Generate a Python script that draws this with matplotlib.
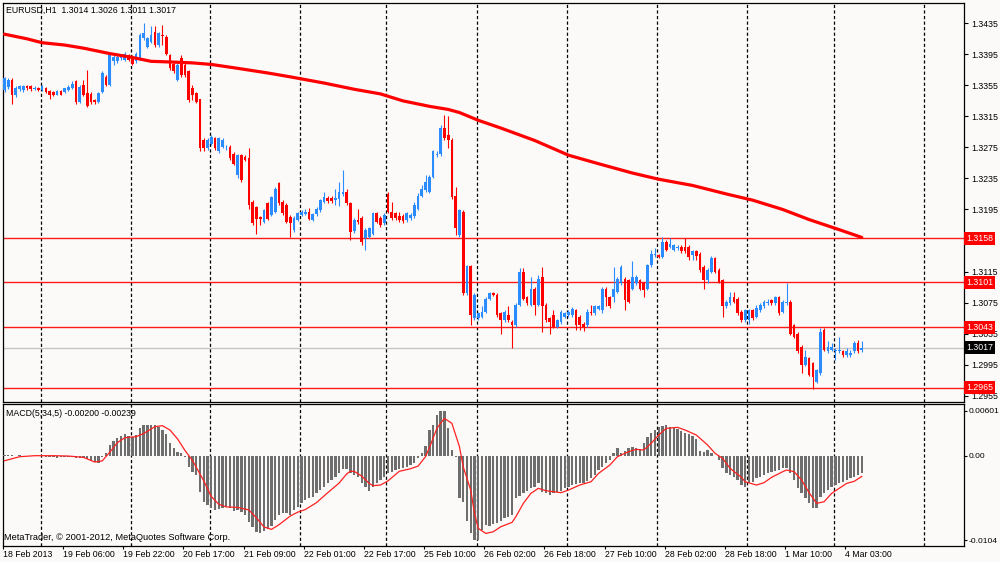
import matplotlib
matplotlib.use('Agg')
import matplotlib.pyplot as plt
import matplotlib.transforms as mtransforms
import numpy as np

plt.rcParams['font.family'] = ['Liberation Sans', 'DejaVu Sans']
plt.rcParams['lines.scale_dashes'] = False

symbol_title = "EURUSD,H1  1.3014 1.3026 1.3011 1.3017"
macd_title = "MACD(5,34,5) -0.00200 -0.00239"
copyright_text = "MetaTrader, \u00a9 2001-2012, MetaQuotes Software Corp."

# ---- OHLC (H1 bars) ----
opens = [1.3349,1.3353,1.3362,1.3343,1.3350,1.3349,1.3354,1.3354,1.3350,1.3352,
         1.3349,1.3351,1.3348,1.3347,1.3343,1.3348,1.3346,1.3349,1.3351,1.3360,
         1.3334,1.3355,1.3345,1.3344,1.3336,1.3333,1.3347,1.3366,1.3355,1.3386,
         1.3386,1.3390,1.3388,1.3394,1.3392,1.3386,1.3390,1.3416,1.3405,1.3411,
         1.3424,1.3407,1.3420,1.3418,1.3394,1.3383,1.3362,1.3390,1.3381,1.3373,
         1.3351,1.3345,1.3338,1.3285,1.3274,1.3280,1.3287,1.3270,1.3276,1.3275,
         1.3276,1.3267,1.3239,1.3265,1.3263,1.3261,1.3205,1.3198,1.3185,1.3179,
         1.3203,1.3188,1.3192,1.3229,1.3205,1.3201,1.3185,1.3168,1.3182,1.3188,
         1.3189,1.3192,1.3181,1.3189,1.3194,1.3205,1.3210,1.3210,1.3207,1.3209,
         1.3215,1.3217,1.3203,1.3167,1.3181,1.3184,1.3158,1.3160,1.3164,1.3190,
         1.3184,1.3177,1.3215,1.3192,1.3190,1.3186,1.3187,1.3181,1.3184,1.3186,
         1.3196,1.3213,1.3220,1.3218,1.3237,1.3265,1.3266,1.3300,1.3291,1.3285,
         1.3213,1.3162,1.3192,1.3087,1.3122,1.3055,1.3055,1.3057,1.3063,1.3080,
         1.3087,1.3085,1.3061,1.3053,1.3059,1.3050,1.3046,1.3072,1.3115,1.3082,
         1.3072,1.3093,1.3072,1.3108,1.3072,1.3055,1.3059,1.3044,1.3050,1.3057,
         1.3059,1.3059,1.3065,1.3057,1.3048,1.3046,1.3063,1.3061,1.3067,1.3065,
         1.3093,1.3082,1.3082,1.3089,1.3100,1.3106,1.3104,1.3093,1.3100,1.3104,
         1.3100,1.3093,1.3123,1.3136,1.3136,1.3134,1.3153,1.3147,1.3143,1.3145,
         1.3147,1.3147,1.3147,1.3136,1.3141,1.3138,1.3121,1.3104,1.3115,1.3132,
         1.3117,1.3104,1.3070,1.3074,1.3082,1.3080,1.3063,1.3052,1.3052,1.3065,
         1.3057,1.3065,1.3070,1.3074,1.3078,1.3074,1.3082,1.3063,1.3074,1.3076,
         1.3046,1.3035,1.3018,1.2995,1.3003,1.2997,1.2973,1.2984,1.3040,1.3012,
         1.3014,1.3012,1.3012,1.3012,1.3008,1.3008,1.3012,1.3023,1.3014]
highs = [1.3366,1.3364,1.3364,1.3354,1.3356,1.3356,1.3355,1.3355,1.3354,1.3353,
         1.3356,1.3353,1.3349,1.3348,1.3349,1.3349,1.3352,1.3356,1.3361,1.3362,
         1.3355,1.3362,1.3375,1.3346,1.3337,1.3347,1.3373,1.3368,1.3396,1.3394,
         1.3395,1.3396,1.3398,1.3396,1.3394,1.3398,1.3422,1.3435,1.3418,1.3431,
         1.3431,1.3424,1.3433,1.3420,1.3396,1.3386,1.3384,1.3394,1.3384,1.3375,
         1.3355,1.3347,1.3338,1.3287,1.3287,1.3291,1.3289,1.3289,1.3287,1.3278,
         1.3278,1.3269,1.3267,1.3267,1.3265,1.3274,1.3207,1.3200,1.3186,1.3196,
         1.3205,1.3213,1.3224,1.3231,1.3207,1.3203,1.3188,1.3186,1.3192,1.3194,
         1.3195,1.3197,1.3191,1.3198,1.3209,1.3218,1.3213,1.3213,1.3222,1.3231,
         1.3246,1.3222,1.3205,1.3184,1.3196,1.3186,1.3171,1.3173,1.3192,1.3192,
         1.3186,1.3190,1.3217,1.3205,1.3192,1.3192,1.3189,1.3192,1.3190,1.3205,
         1.3216,1.3226,1.3239,1.3239,1.3272,1.3270,1.3304,1.3317,1.3315,1.3287,
         1.3224,1.3196,1.3194,1.3124,1.3124,1.3087,1.3063,1.3070,1.3082,1.3089,
         1.3089,1.3087,1.3063,1.3065,1.3070,1.3052,1.3074,1.3119,1.3119,1.3084,
         1.3108,1.3095,1.3110,1.3121,1.3074,1.3057,1.3065,1.3054,1.3065,1.3063,
         1.3065,1.3069,1.3067,1.3059,1.3050,1.3067,1.3072,1.3072,1.3072,1.3095,
         1.3095,1.3084,1.3121,1.3108,1.3123,1.3108,1.3106,1.3128,1.3110,1.3106,
         1.3102,1.3125,1.3143,1.3145,1.3138,1.3160,1.3156,1.3158,1.3151,1.3149,
         1.3149,1.3158,1.3149,1.3143,1.3143,1.3140,1.3123,1.3119,1.3135,1.3134,
         1.3119,1.3106,1.3078,1.3089,1.3089,1.3082,1.3065,1.3067,1.3067,1.3067,
         1.3072,1.3074,1.3078,1.3080,1.3080,1.3084,1.3084,1.3078,1.3100,1.3078,
         1.3048,1.3037,1.3020,1.3014,1.3005,1.2999,1.2990,1.3042,1.3042,1.3025,
         1.3023,1.3016,1.3031,1.3014,1.3016,1.3014,1.3025,1.3027,1.3026]
lows = [1.3347,1.3350,1.3331,1.3340,1.3348,1.3347,1.3349,1.3348,1.3349,1.3348,
        1.3348,1.3345,1.3338,1.3341,1.3342,1.3342,1.3345,1.3348,1.3350,1.3331,
        1.3332,1.3341,1.3327,1.3331,1.3331,1.3332,1.3345,1.3354,1.3354,1.3381,
        1.3384,1.3388,1.3386,1.3386,1.3381,1.3384,1.3388,1.3414,1.3403,1.3410,
        1.3405,1.3405,1.3407,1.3394,1.3375,1.3371,1.3360,1.3366,1.3366,1.3334,
        1.3336,1.3332,1.3270,1.3270,1.3272,1.3278,1.3272,1.3268,1.3274,1.3272,
        1.3259,1.3252,1.3235,1.3231,1.3257,1.3196,1.3175,1.3164,1.3175,1.3177,
        1.3181,1.3186,1.3190,1.3201,1.3188,1.3177,1.3159,1.3166,1.3180,1.3186,
        1.3188,1.3181,1.3180,1.3187,1.3192,1.3203,1.3204,1.3204,1.3201,1.3199,
        1.3213,1.3201,1.3156,1.3165,1.3176,1.3149,1.3143,1.3158,1.3162,1.3177,
        1.3173,1.3175,1.3190,1.3182,1.3182,1.3179,1.3178,1.3179,1.3182,1.3184,
        1.3194,1.3211,1.3218,1.3216,1.3235,1.3263,1.3264,1.3285,1.3274,1.3209,
        1.3162,1.3160,1.3085,1.3085,1.3046,1.3053,1.3053,1.3055,1.3061,1.3078,
        1.3083,1.3057,1.3035,1.3050,1.3050,1.3016,1.3044,1.3070,1.3078,1.3072,
        1.3070,1.3059,1.3070,1.3037,1.3050,1.3035,1.3042,1.3042,1.3048,1.3055,
        1.3057,1.3057,1.3040,1.3040,1.3038,1.3044,1.3059,1.3059,1.3065,1.3061,
        1.3070,1.3068,1.3076,1.3087,1.3098,1.3065,1.3074,1.3091,1.3098,1.3091,
        1.3082,1.3091,1.3121,1.3134,1.3132,1.3132,1.3141,1.3145,1.3141,1.3143,
        1.3139,1.3139,1.3130,1.3130,1.3130,1.3115,1.3093,1.3100,1.3113,1.3113,
        1.3100,1.3057,1.3068,1.3072,1.3074,1.3059,1.3050,1.3050,1.3048,1.3053,
        1.3055,1.3063,1.3068,1.3072,1.3072,1.3072,1.3059,1.3061,1.3072,1.3033,
        1.3029,1.3010,1.2984,1.2993,1.2980,1.2964,1.2971,1.2982,1.3012,1.3010,
        1.3012,1.3001,1.3010,1.3005,1.3005,1.3005,1.3010,1.3010,1.3011]
closes = [1.3364,1.3362,1.3342,1.3352,1.3354,1.3354,1.3351,1.3350,1.3352,1.3349,
          1.3354,1.3347,1.3343,1.3343,1.3348,1.3343,1.3351,1.3353,1.3357,1.3333,
          1.3353,1.3343,1.3329,1.3333,1.3333,1.3345,1.3371,1.3355,1.3394,1.3392,
          1.3392,1.3394,1.3396,1.3388,1.3383,1.3396,1.3420,1.3422,1.3416,1.3420,
          1.3407,1.3422,1.3419,1.3396,1.3377,1.3373,1.3381,1.3368,1.3368,1.3336,
          1.3343,1.3334,1.3274,1.3274,1.3285,1.3289,1.3274,1.3287,1.3285,1.3276,
          1.3261,1.3254,1.3265,1.3233,1.3259,1.3201,1.3177,1.3183,1.3183,1.3194,
          1.3183,1.3211,1.3222,1.3203,1.3190,1.3179,1.3177,1.3184,1.3190,1.3192,
          1.3192,1.3183,1.3189,1.3196,1.3207,1.3211,1.3206,1.3206,1.3210,1.3217,
          1.3218,1.3203,1.3166,1.3181,1.3179,1.3153,1.3169,1.3171,1.3190,1.3179,
          1.3175,1.3188,1.3192,1.3184,1.3184,1.3181,1.3180,1.3190,1.3188,1.3201,
          1.3213,1.3222,1.3231,1.3237,1.3270,1.3267,1.3300,1.3287,1.3285,1.3211,
          1.3171,1.3194,1.3087,1.3122,1.3059,1.3085,1.3061,1.3063,1.3080,1.3087,
          1.3085,1.3059,1.3052,1.3063,1.3052,1.3046,1.3072,1.3115,1.3080,1.3074,
          1.3093,1.3072,1.3106,1.3070,1.3052,1.3050,1.3044,1.3052,1.3063,1.3061,
          1.3063,1.3067,1.3046,1.3046,1.3044,1.3063,1.3061,1.3070,1.3070,1.3093,
          1.3082,1.3070,1.3093,1.3106,1.3121,1.3078,1.3076,1.3108,1.3108,1.3093,
          1.3091,1.3123,1.3138,1.3138,1.3134,1.3153,1.3143,1.3151,1.3149,1.3146,
          1.3141,1.3141,1.3134,1.3141,1.3135,1.3117,1.3104,1.3117,1.3132,1.3115,
          1.3102,1.3070,1.3076,1.3082,1.3076,1.3061,1.3052,1.3065,1.3065,1.3055,
          1.3068,1.3072,1.3076,1.3076,1.3074,1.3082,1.3061,1.3076,1.3076,1.3035,
          1.3031,1.3012,1.2995,1.3005,1.2982,1.2979,1.2988,1.3037,1.3014,1.3018,
          1.3018,1.3014,1.3014,1.3008,1.3012,1.3010,1.3023,1.3012,1.3017]

# ---- moving average (read points) ----
ma_bars = [0, 6, 10, 16, 21, 28, 34, 39, 45, 50, 55, 62, 70, 76, 85, 93, 100,
           106, 113, 118, 121, 126, 132, 141, 150, 158, 167, 174,
           183, 192, 199, 207, 214, 222, 228]
ma_values = [1.3421, 1.3415, 1.3410, 1.3407, 1.3403, 1.3396, 1.3391, 1.3386,
             1.3385, 1.3384, 1.3382, 1.3377, 1.3371, 1.3366, 1.3358, 1.3350,
             1.3344, 1.3335, 1.3328, 1.3324, 1.3320, 1.3310, 1.3300, 1.3284,
             1.3265, 1.3254, 1.3242, 1.3234,
             1.3226, 1.3215, 1.3207, 1.3195, 1.3182, 1.3169, 1.3159]

# ---- MACD(5,34,5) ----
macd_hist = [0.00008,0.00008,0.00004,0.0,0.00004,0.0,0.0,-0.00004,-0.00004,-0.00004,
             -0.00008,-0.00012,-0.00015,-0.00019,-0.00023,-0.00019,-0.00019,-0.00015,-0.00012,-0.00023,
             -0.00031,-0.00023,-0.00042,-0.00058,-0.00073,-0.00081,-0.00012,0.00027,0.00123,0.00173,
             0.00207,0.00227,0.00246,0.00230,0.00219,0.00238,0.00315,0.00349,0.00349,0.00353,
             0.00353,0.00334,0.00296,0.00246,0.00150,0.00084,0.00046,0.00027,-0.00012,-0.00127,
             -0.00184,-0.00223,-0.00415,-0.00530,-0.00568,-0.00607,-0.00626,-0.00618,-0.00607,-0.00595,
             -0.00607,-0.00634,-0.00626,-0.00645,-0.00684,-0.00760,-0.00818,-0.00876,-0.00887,-0.00868,
             -0.00849,-0.00810,-0.00741,-0.00684,-0.00664,-0.00664,-0.00684,-0.00626,-0.00588,-0.00549,
             -0.00511,-0.00492,-0.00472,-0.00434,-0.00396,-0.00357,-0.00319,-0.00280,-0.00242,-0.00204,
             -0.00157,-0.00157,-0.00204,-0.00223,-0.00242,-0.00319,-0.00365,-0.00403,-0.00357,-0.00319,
             -0.00280,-0.00242,-0.00204,-0.00184,-0.00165,-0.00154,-0.00138,-0.00127,-0.00108,-0.00088,
             -0.00031,0.00027,0.00111,0.00296,0.00353,0.00468,0.00518,0.00518,0.00315,0.00065,
             -0.00012,-0.00492,-0.00530,-0.00749,-0.00887,-0.00972,-0.00972,-0.00856,-0.00799,-0.00810,
             -0.00787,-0.00772,-0.00749,-0.00722,-0.00703,-0.00684,-0.00492,-0.00465,-0.00434,-0.00403,
             -0.00376,-0.00357,-0.00319,-0.00415,-0.00434,-0.00453,-0.00426,-0.00415,-0.00403,-0.00376,
             -0.00357,-0.00338,-0.00330,-0.00319,-0.00319,-0.00288,-0.00261,-0.00223,-0.00165,-0.00127,
             -0.00088,-0.00050,0.00027,0.00084,0.00027,0.00054,0.00084,0.00104,0.00092,0.00077,
             0.00142,0.00219,0.00265,0.00296,0.00334,0.00346,0.00353,0.00334,0.00323,0.00303,
             0.00284,0.00265,0.00246,0.00227,0.00188,0.00054,0.00046,0.00065,0.00027,0.0,
             -0.00050,-0.00146,-0.00204,-0.00223,-0.00250,-0.00280,-0.00338,-0.00357,-0.00319,-0.00300,
             -0.00261,-0.00242,-0.00223,-0.00204,-0.00184,-0.00173,-0.00165,-0.00146,-0.00146,-0.00204,
             -0.00280,-0.00376,-0.00434,-0.00492,-0.00549,-0.00607,-0.00607,-0.00472,-0.00434,-0.00396,
             -0.00357,-0.00338,-0.00319,-0.00300,-0.00280,-0.00261,-0.00242,-0.00223,-0.00200]
signal_bars = [0, 4, 8, 13, 17, 21, 24, 26, 28, 30, 32, 35, 37, 40, 42, 44, 46, 48,
               50, 53, 55, 57, 59, 62, 65, 67, 69, 71, 73, 76, 78, 80, 83, 86, 89,
               91, 92, 93, 95, 97, 98, 100, 102, 105, 108, 110, 112, 113, 115, 117,
               119, 121, 122, 124, 125, 126, 128, 130, 132, 135, 136, 138, 140, 142,
               144, 146, 148, 150, 153, 156, 158, 161, 163, 166, 168, 170, 172, 174,
               176, 179, 181, 184, 187, 189, 191, 193, 196, 197, 200, 202, 204, 207,
               208, 210, 212, 214, 216, 218, 220, 222, 224, 226, 228]
signal_values = [-0.00058, -0.00012, 0.0, 0.0, -0.00004, -0.00019, -0.00073, -0.00060,
                 0.00040, 0.00150, 0.00207, 0.00219, 0.00255, 0.00334, 0.00346, 0.00296,
                 0.00195, 0.00060, -0.00055, -0.00290, -0.00470, -0.00560, -0.00590,
                 -0.00595, -0.00625, -0.00715, -0.00820, -0.00849, -0.00795, -0.00695,
                 -0.00650, -0.00620, -0.00540, -0.00425, -0.00315, -0.00210, -0.00180,
                 -0.00180, -0.00235, -0.00319, -0.00345, -0.00338, -0.00290, -0.00180,
                 -0.00150, -0.00120, -0.00010, 0.00090, 0.00315, 0.00430, 0.00372,
                 0.00104, -0.00127, -0.00396, -0.00664, -0.00837, -0.00895, -0.00876,
                 -0.00818, -0.00768, -0.00703, -0.00549, -0.00434, -0.00376, -0.00403,
                 -0.00415, -0.00426, -0.00396, -0.00338, -0.00300, -0.00204, -0.00108,
                 -0.00012, 0.00046, 0.00073, 0.00065, 0.00142, 0.00238, 0.00315, 0.00326,
                 0.00296, 0.00238, 0.00123, 0.00027, -0.00031, -0.00146, -0.00250,
                 -0.00300, -0.00338, -0.00311, -0.00250, -0.00184, -0.00165, -0.00184,
                 -0.00280, -0.00426, -0.00549, -0.00530, -0.00434, -0.00376, -0.00319,
                 -0.00295, -0.00239]

level_lines = [1.3158, 1.3101, 1.3043, 1.2965]
bid_price = 1.3017
price_ticks = [1.2955, 1.2995, 1.3035, 1.3075, 1.3115, 1.3155, 1.3195, 1.3235,
               1.3275, 1.3315, 1.3355, 1.3395, 1.3435]
hidden_price_ticks = [1.3155]   # covered by the 1.3158 label in the original
time_tick_bars = [0, 16, 32, 48, 64, 80, 96, 112, 128, 144, 160, 176, 192, 208, 224]
time_tick_labels = ["18 Feb 2013", "19 Feb 06:00", "19 Feb 22:00", "20 Feb 17:00",
                    "21 Feb 09:00", "22 Feb 01:00", "22 Feb 17:00", "25 Feb 10:00",
                    "26 Feb 02:00", "26 Feb 18:00", "27 Feb 10:00", "28 Feb 02:00",
                    "28 Feb 18:00", "1 Mar 10:00", "4 Mar 03:00"]
day_start_bars = [10, 34, 55, 79, 102, 126, 150, 174, 198, 221, 245]
macd_max_label = "0.00601"
macd_zero_label = "0.00"
macd_min_label = "-0.0104"

n = len(closes)
assert len(opens) == n == len(highs) == len(lows) == len(macd_hist)

BG = '#FCFAF8'
BULL = '#2A8CFF'
BEAR = '#FF0000'
FS = 6.3

W, H = 1000, 562
fig = plt.figure(figsize=(W / 100, H / 100), dpi=100)
fig.patch.set_facecolor(BG)

ax1 = fig.add_axes([3 / W, 1 - 401.7 / H, 961 / W, 398.7 / H])
ax2 = fig.add_axes([3 / W, 1 - 546 / H, 961 / W, 142.5 / H])

XMIN, XMAX = -0.4, 255.2
OFF = -0.4
for ax in (ax1, ax2):
    ax.set_facecolor(BG)
    ax.set_xlim(XMIN, XMAX)
    for s in ax.spines.values():
        s.set_color('black')
        s.set_linewidth(0.9)
    for b in day_start_bars:
        ax.axvline(b + OFF, color='black', lw=0.9, linestyle=(0, (2.3, 1.7)), zorder=1)

# ---- price panel ----
x = np.arange(n)
O = np.array(opens); Hh = np.array(highs); L = np.array(lows); C = np.array(closes)
bull = C >= O
colors = [BULL if b else BEAR for b in bull]
bottoms = np.minimum(O, C)
heights = np.maximum(np.abs(C - O), 0.00004)

ax1.set_ylim(1.29472, 1.34612)
for v in level_lines:
    ax1.axhline(v, color='#FF1A1A', lw=1.0, zorder=2)
ax1.axhline(bid_price, color='#C4C4C4', lw=1.0, zorder=2)
ax1.vlines(x, L, Hh, colors=colors, lw=0.8, zorder=3)
ax1.bar(x, heights, bottom=bottoms, width=0.72, color=colors, linewidth=0, zorder=4)
ax1.plot(ma_bars, ma_values, color='#FF0000', lw=2.3, solid_capstyle='round',
         solid_joinstyle='round', zorder=5)

ax1.set_xticks([])
ax1.yaxis.tick_right()
ax1.set_yticks(price_ticks)
ax1.set_yticklabels(["" if t in hidden_price_ticks else f"{t:.4f}" for t in price_ticks])
ax1.tick_params(axis='y', length=3, width=0.8, pad=2, labelsize=FS, colors='black')

trans1 = mtransforms.blended_transform_factory(ax1.transAxes, ax1.transData)
for v in level_lines:
    ax1.text(1.0025, v, f"{v:.4f}", transform=trans1, ha='left', va='center',
             color='white', fontsize=FS, clip_on=False, zorder=10,
             bbox=dict(boxstyle='square,pad=0.22', fc='#FF0000', ec='none'))
ax1.text(1.0025, bid_price, f"{bid_price:.4f}", transform=trans1, ha='left', va='center',
         color='white', fontsize=FS, clip_on=False, zorder=10,
         bbox=dict(boxstyle='square,pad=0.22', fc='black', ec='none'))

ax1.text(3 / 961, 1 - 7 / 398.7, symbol_title, transform=ax1.transAxes,
         ha='left', va='center', fontsize=FS, color='black', zorder=11)

# ---- MACD panel ----
ax2.set_ylim(-0.0104, 0.00601)
ax2.bar(x, macd_hist, width=0.62, color='#6E6E6E', linewidth=0, zorder=3)
ax2.plot(signal_bars, signal_values, color='#FF2020', lw=0.9, zorder=4)

ax2.yaxis.tick_right()
ax2.set_yticks([0.00515, 0.0, -0.00971])
ax2.set_yticklabels([macd_max_label, macd_zero_label, macd_min_label])
ax2.tick_params(axis='y', length=2, width=0.8, pad=1, labelsize=FS - 0.2, colors='black')

ax2.set_xticks([b + OFF for b in time_tick_bars])
ax2.set_xticklabels(time_tick_labels, ha='left')
ax2.tick_params(axis='x', length=2, width=0.8, pad=1.2, labelsize=FS, colors='black')

ax2.text(3 / 961, 1 - 9.5 / 142.5, macd_title, transform=ax2.transAxes,
         ha='left', va='center', fontsize=FS, color='black', zorder=11)
ax2.text(1 / 961, 9 / 142.5, copyright_text, transform=ax2.transAxes,
         ha='left', va='center', fontsize=FS + 0.4, color='black', zorder=11)

fig.savefig('out.png', dpi=100, facecolor=BG)
